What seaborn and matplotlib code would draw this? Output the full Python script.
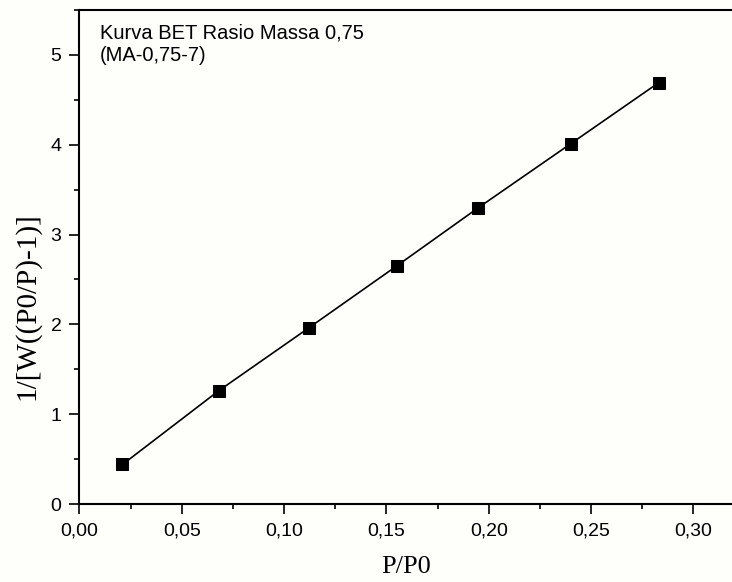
import numpy as np
import pandas as pd
import seaborn as sns
import matplotlib.pyplot as plt
from matplotlib.ticker import MultipleLocator, FuncFormatter

# ================= DATA =================
p_p0 = [0.021, 0.068, 0.112, 0.155, 0.195, 0.240, 0.283]
bet_y = [0.44, 1.26, 1.96, 2.65, 3.30, 4.01, 4.69]

annot_lines = ["Kurva BET Rasio Massa 0,75", "(MA-0,75-7)"]
x_label = "P/P0"
y_label = "1/[W((P0/P)-1)]"

df = pd.DataFrame({"x": p_p0, "y": bet_y})

# ================= STYLE =================
sns.set_theme(style="ticks")
plt.rcParams["font.family"] = ["Liberation Sans", "DejaVu Sans"]
bg = "#fefefb"

fig = plt.figure(figsize=(7.32, 5.82), dpi=100, facecolor=bg)
ax = fig.add_axes([0.1086, 0.134, 1 - 0.1086, 0.8488])
ax.set_facecolor(bg)

sns.lineplot(data=df, x="x", y="y", ax=ax, color="black", linewidth=1.2,
             marker="s", markersize=8, markeredgecolor="black",
             markerfacecolor="black")

ax.set_xlim(0, 0.3189)
ax.set_ylim(0, 5.5)

ax.xaxis.set_major_locator(MultipleLocator(0.05))
ax.xaxis.set_minor_locator(MultipleLocator(0.025))
ax.yaxis.set_major_locator(MultipleLocator(1))
ax.yaxis.set_minor_locator(MultipleLocator(0.5))
ax.xaxis.set_major_formatter(FuncFormatter(lambda v, p: f"{v:.2f}".replace(".", ",")))
ax.yaxis.set_major_formatter(FuncFormatter(lambda v, p: f"{v:.0f}"))

ax.tick_params(which="major", direction="out", length=7, width=1.2,
               labelsize=14, color="black", labelcolor="black", pad=6)
ax.tick_params(which="minor", direction="out", length=3.5, width=1.2, color="black")

for side in ["left", "bottom", "top"]:
    ax.spines[side].set_linewidth(1.5)
    ax.spines[side].set_color("black")
ax.spines["right"].set_visible(False)

ax.set_xlabel(x_label, fontsize=19, family="Liberation Serif", color="black")
ax.set_ylabel(y_label, fontsize=21, family="Liberation Serif", color="black")
ax.xaxis.set_label_coords(0.5, -0.105)
ax.yaxis.set_label_coords(-0.0605, 0.40)

ax.text(0.031, 0.972, "\n".join(annot_lines), transform=ax.transAxes,
        fontsize=14.5, va="top", ha="left", color="black", linespacing=1.22)

fig.savefig("out.png", dpi=100, facecolor=bg)
